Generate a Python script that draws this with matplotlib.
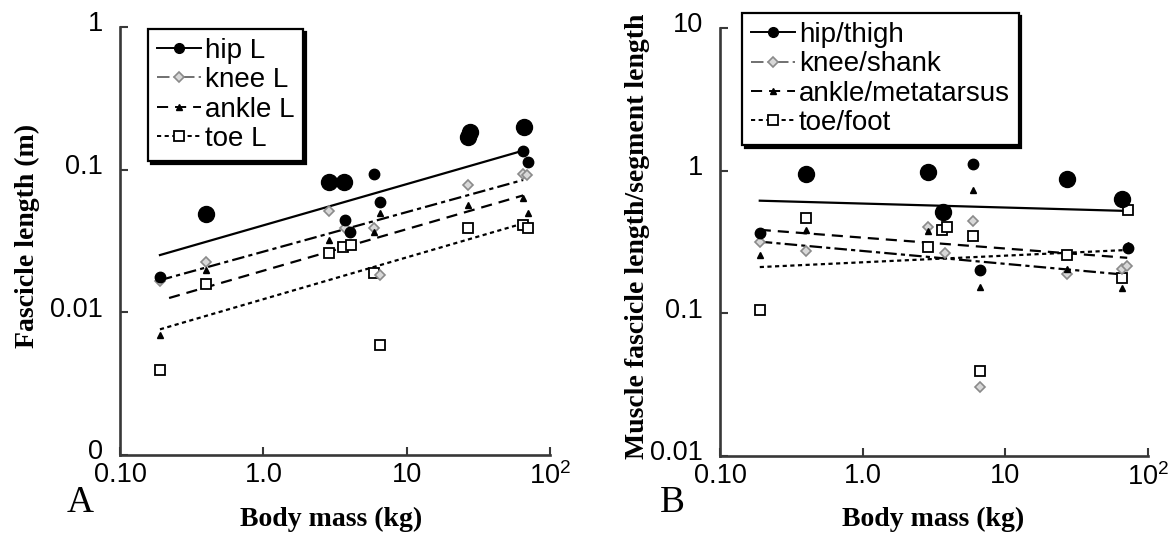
import matplotlib
matplotlib.use("Agg")
import matplotlib.pyplot as plt
from matplotlib.lines import Line2D
from matplotlib.transforms import ScaledTranslation

# ---------------- data : panel A (fascicle length, m) ----------------
hipA_big_m = [0.40, 2.85, 3.65, 27.0, 27.5, 66.0]
hipA_big_v = [0.049, 0.082, 0.082, 0.170, 0.183, 0.199]
hipA_m = [0.19, 3.7, 4.05, 5.95, 6.5, 64.6, 70.7]
hipA_v = [0.0178, 0.0444, 0.0366, 0.0928, 0.0597, 0.136, 0.113]
kneeA_m = [0.19, 0.40, 2.85, 3.7, 5.9, 6.5, 27.0, 64.6, 68.8]
kneeA_v = [0.0166, 0.0227, 0.0514, 0.0388, 0.0388, 0.0183, 0.078, 0.094, 0.092]
ankleA_m = [0.19, 0.40, 2.85, 5.9, 6.5, 27.0, 64.6, 70.7]
ankleA_v = [0.00695, 0.0198, 0.032, 0.0368, 0.0495, 0.0566, 0.063, 0.0495]
toeA_m = [0.19, 0.40, 2.85, 3.6, 4.1, 5.9, 6.5, 27.0, 64.6, 70.7]
toeA_v = [0.00395, 0.0158, 0.026, 0.0286, 0.0297, 0.0188, 0.0059, 0.0388, 0.041, 0.0392]
# fitted lines (end points)
fitA_m = {"hip": [0.19, 65], "knee": [0.19, 65], "ankle": [0.22, 65], "toe": [0.19, 65]}
fitA_v = {"hip": [0.0252, 0.136], "knee": [0.0168, 0.0847],
          "ankle": [0.0126, 0.066], "toe": [0.0076, 0.042]}

# ---------------- data : panel B (ratio) ----------------
hipB_big_m = [0.40, 2.85, 3.67, 27.2, 65.9]
hipB_big_v = [0.948, 0.974, 0.516, 0.875, 0.633]
hipB_m = [0.19, 5.96, 6.64, 71.9]
hipB_v = [0.364, 1.114, 0.201, 0.286]
kneeB_m = [0.19, 0.40, 2.87, 3.78, 5.96, 6.64, 27.2, 66.0, 71.0]
kneeB_v = [0.318, 0.275, 0.40, 0.264, 0.446, 0.0306, 0.189, 0.205, 0.215]
ankleB_m = [0.19, 0.40, 2.87, 5.96, 6.64, 27.2, 66.0, 71.9]
ankleB_v = [0.257, 0.384, 0.375, 0.733, 0.152, 0.204, 0.150, 0.30]
toeB_m = [0.19, 0.40, 2.87, 3.6, 3.9, 5.96, 6.64, 27.2, 66.0, 71.9]
toeB_v = [0.106, 0.469, 0.29, 0.384, 0.405, 0.348, 0.0397, 0.257, 0.176, 0.531]
fitB_m = {"hip": [0.19, 71.5], "knee": [0.19, 71.5], "ankle": [0.19, 71.5], "toe": [0.19, 71.5]}
fitB_v = {"hip": [0.616, 0.522], "knee": [0.318, 0.186],
          "ankle": [0.385, 0.245], "toe": [0.211, 0.278]}

labelsA = ["hip L", "knee L", "ankle L", "toe L"]
labelsB = ["hip/thigh", "knee/shank", "ankle/metatarsus", "toe/foot"]
xticks = [0.1, 1, 10, 100]
xticklabels = ["0.10", "1.0", "10", "$10^2$"]
yticksA = [0.001, 0.01, 0.1, 1]
yticklabelsA = ["0", "0.01", "0.1", "1"]
yticksB = [0.01, 0.1, 1, 10]
yticklabelsB = ["0.01", "0.1", "1", "10"]

# ---------------- style ----------------
plt.rcParams["font.family"] = ["Liberation Sans", "DejaVu Sans"]
plt.rcParams["mathtext.fontset"] = "custom"
plt.rcParams["mathtext.rm"] = "Liberation Sans"
plt.rcParams["mathtext.it"] = "Liberation Sans"
plt.rcParams["mathtext.default"] = "regular"
plt.rcParams["lines.scale_dashes"] = False
AX = "#383838"
LS = {"hip": "-", "knee": (0, (9, 3, 3, 3)), "ankle": (0, (8, 5)), "toe": (0, (3, 2.5))}
MK = {
    "hip": dict(marker="o", ms=7.5, mfc="black", mec="black"),
    "hip_big": dict(marker="o", ms=11.5, mfc="black", mec="black"),
    "knee": dict(marker="D", ms=5, mfc="#d8d8d8", mec="#8a8a8a", mew=1.2),
    "ankle": dict(marker="^", ms=5, mfc="black", mec="black"),
    "toe": dict(marker="s", ms=7, mfc="white", mec="black", mew=1.3),
}

W, H = 1173, 535
fig = plt.figure(figsize=(W / 100, H / 100), dpi=100)


def px_axes(l, r, t, b):
    return fig.add_axes([l / W, 1 - b / H, (r - l) / W, (b - t) / H])


axA = px_axes(120, 550, 27, 455)
axB = px_axes(720, 1148, 28, 456)


def draw(ax, data, fits_m, fits_v, labels, yt, ytl, ylim, leg_anchor):
    for key in ["hip", "knee", "ankle", "toe"]:
        ax.plot(fits_m[key], fits_v[key], color="black", lw=1.6, ls=LS[key], zorder=2)
    (hb_m, hb_v), (h_m, h_v), (k_m, k_v), (a_m, a_v), (t_m, t_v) = data
    ax.plot(t_m, t_v, ls="none", zorder=3, **MK["toe"])
    ax.plot(k_m, k_v, ls="none", zorder=3, **MK["knee"])
    ax.plot(a_m, a_v, ls="none", zorder=4, **MK["ankle"])
    ax.plot(hb_m, hb_v, ls="none", zorder=4, **MK["hip_big"])
    ax.plot(h_m, h_v, ls="none", zorder=4, **MK["hip"])

    ax.set_xscale("log")
    ax.set_yscale("log")
    ax.set_xlim(0.1, 100)
    ax.set_ylim(*ylim)
    ax.set_xticks(xticks)
    ax.set_xticklabels(xticklabels)
    ax.set_yticks(yt)
    ax.set_yticklabels(ytl)
    ax.minorticks_off()
    for s in ["top", "right"]:
        ax.spines[s].set_visible(False)
    for s in ["left", "bottom"]:
        ax.spines[s].set_color(AX)
        ax.spines[s].set_linewidth(1.9)
    ax.tick_params(axis="both", direction="in", length=6, width=1.5, color=AX,
                   labelsize=19.5)
    ax.tick_params(axis="y", pad=12)
    ax.tick_params(axis="x", pad=5)
    shift = ScaledTranslation(0, 4 / 72, fig.dpi_scale_trans)
    for t in ax.get_yticklabels():
        t.set_transform(t.get_transform() + shift)

    handles = []
    for key, lab in zip(["hip", "knee", "ankle", "toe"], labels):
        mk = dict(MK[key])
        if key == "hip":
            mk["ms"] = 7
        handles.append(Line2D([], [], color="black" if key != "knee" else "#707070",
                              lw=1.4, ls=LS[key], label=lab, **mk))
    leg = ax.legend(handles=handles, loc="upper left", bbox_to_anchor=leg_anchor,
                    fontsize=20, frameon=True, fancybox=False, handlelength=1.6,
                    handletextpad=0.12, labelspacing=0.12, borderpad=0.32,
                    borderaxespad=0.0,
                    shadow={"facecolor": "black", "edgecolor": "black", "alpha": 1})
    fr = leg.get_frame()
    fr.set_edgecolor("black")
    fr.set_linewidth(1.6)
    fr.set_alpha(1)


draw(axA, [(hipA_big_m, hipA_big_v), (hipA_m, hipA_v), (kneeA_m, kneeA_v),
           (ankleA_m, ankleA_v), (toeA_m, toeA_v)],
     fitA_m, fitA_v, labelsA, yticksA, yticklabelsA, (0.001, 1),
     ((148 - 120) / 430, (455 - 29) / 428))
draw(axB, [(hipB_big_m, hipB_big_v), (hipB_m, hipB_v), (kneeB_m, kneeB_v),
           (ankleB_m, ankleB_v), (toeB_m, toeB_v)],
     fitB_m, fitB_v, labelsB, yticksB, yticklabelsB, (0.01, 10),
     ((742 - 720) / 428, (456 - 13) / 428))

serif = ["Liberation Serif", "DejaVu Serif"]
lab_kw = dict(fontfamily=serif, fontweight="bold", fontsize=20, ha="center", va="center")
fig.text(331 / W, 1 - 519 / H, "Body mass (kg)", **lab_kw)
fig.text(933 / W, 1 - 519 / H, "Body mass (kg)", **lab_kw)
fig.text(27 / W, 1 - 236 / H, "Fascicle length (m)", rotation=90, **lab_kw)
fig.text(637 / W, 1 - 236 / H, "Muscle fascicle length/segment length", rotation=90, **lab_kw)
fig.text(80 / W, 1 - 503 / H, "A", fontfamily=serif, fontsize=27, ha="center", va="center")
fig.text(672 / W, 1 - 503 / H, "B", fontfamily=serif, fontsize=27, ha="center", va="center")

fig.savefig("out.png", dpi=100, facecolor="white")
